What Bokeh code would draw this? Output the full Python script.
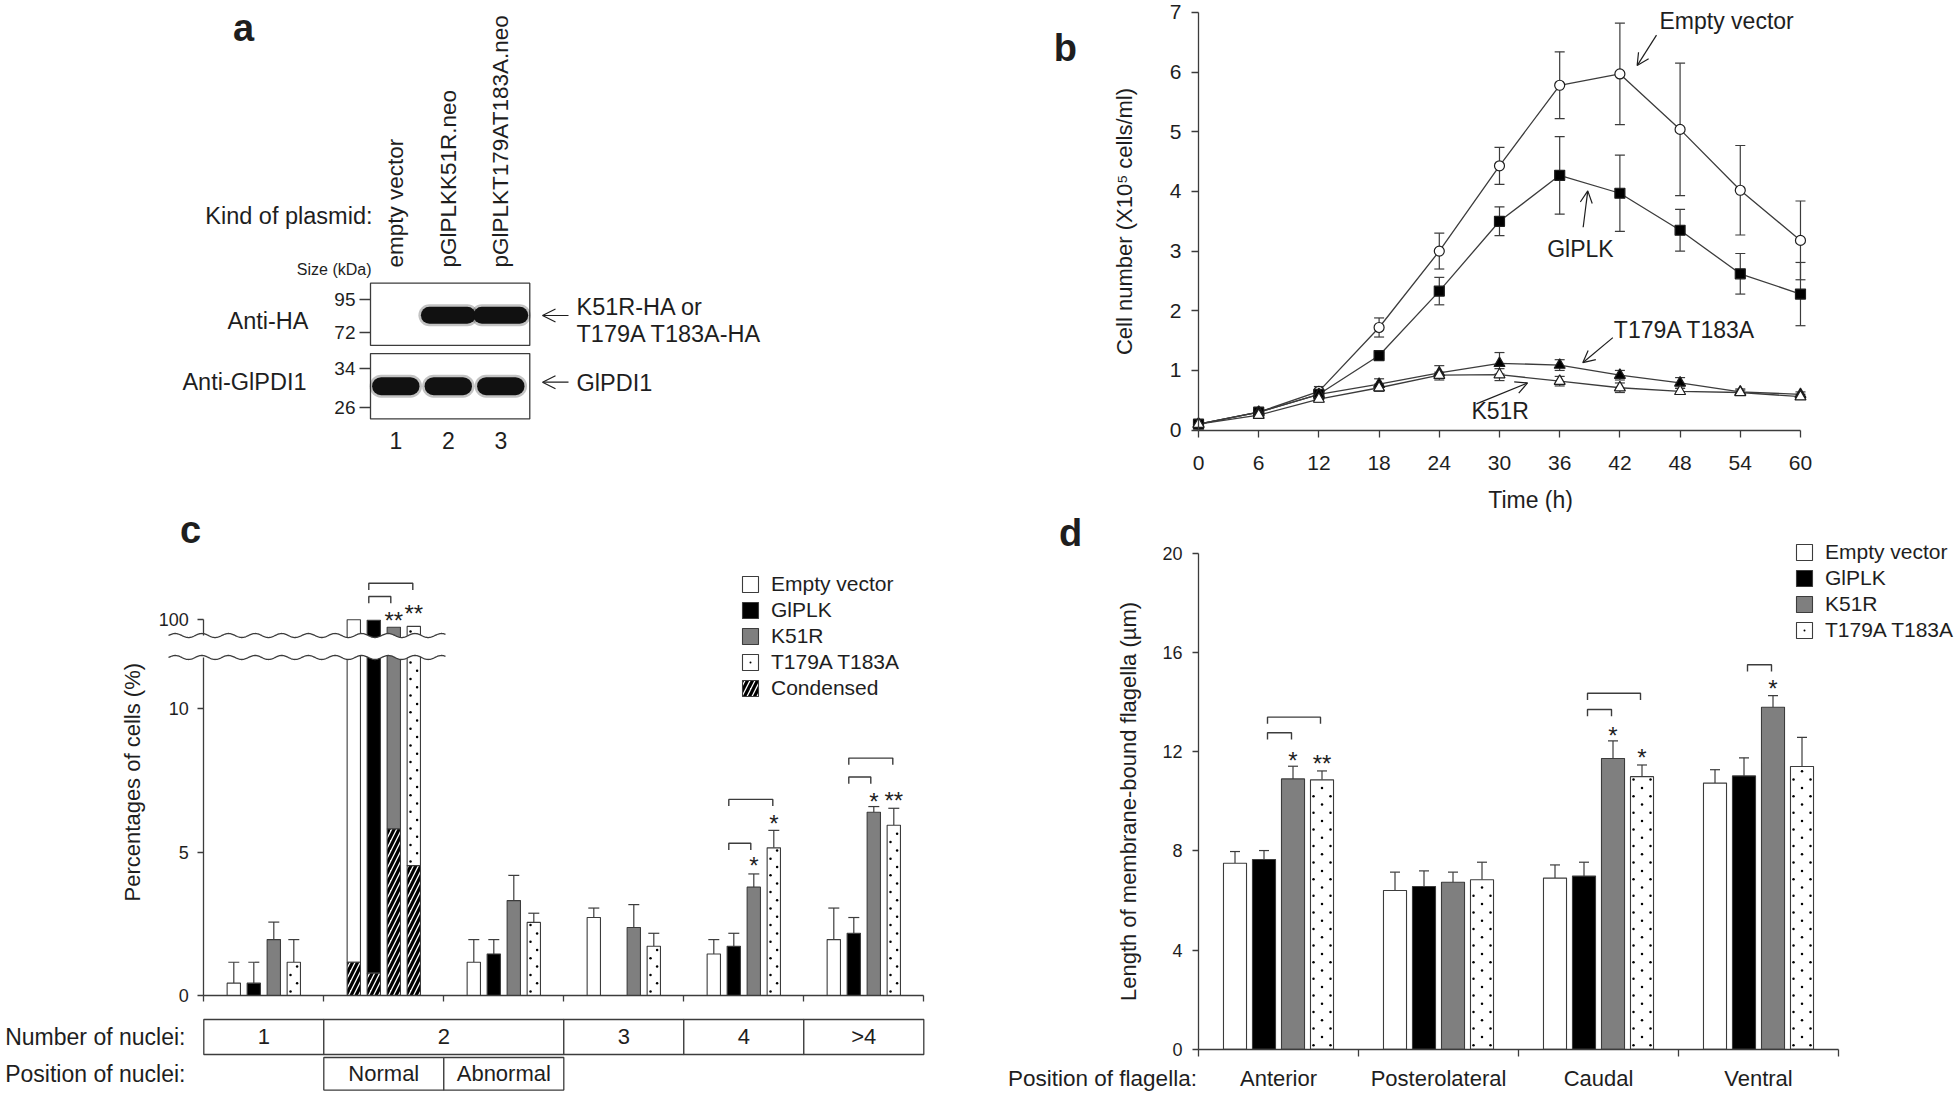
import numpy as np
from bokeh.plotting import figure
from bokeh.layouts import row, column
from bokeh.models import (Range1d, LinearAxis, FixedTicker, Whisker, TeeHead, Arrow,
                          OpenHead, Legend, LegendItem, ColumnDataSource)
from bokeh.core.properties import value
from bokeh.embed import file_html
from bokeh.resources import INLINE

FONT = "Liberation Sans"
INK = "#1e1e1e"
LINE = "#3c3c3c"
GREY = "#7f7f7f"

# ============================ data ============================
# (a) western blot
lanes = [1, 2, 3]
lane_numbers = ["1", "2", "3"]
plasmids = ["empty vector", "pGlPLKK51R.neo", "pGlPLKT179AT183A.neo"]
ha_detected = [False, True, True]
pdi_detected = [True, True, True]
ha_marker_kda = [95, 72]
pdi_marker_kda = [34, 26]
ha_band_kda = 84.0
pdi_band_kda = 30.3

# (b) growth curves, cell number (x10^5 cells/ml)
time_h = [0, 6, 12, 18, 24, 30, 36, 42, 48, 54, 60]
b_empty = [0.10, 0.30, 0.65, 1.72, 3.00, 4.43, 5.78, 5.97, 5.04, 4.02, 3.18]
b_empty_err = [0.02, 0.05, 0.08, 0.16, 0.30, 0.31, 0.56, 0.85, 1.11, 0.75, 0.66]
b_giplk = [0.10, 0.30, 0.60, 1.25, 2.33, 3.50, 4.27, 3.97, 3.35, 2.62, 2.28]
b_giplk_err = [0.02, 0.04, 0.07, 0.05, 0.23, 0.24, 0.65, 0.64, 0.35, 0.34, 0.53]
b_t179 = [0.10, 0.30, 0.60, 0.77, 0.96, 1.12, 1.09, 0.92, 0.79, 0.64, 0.60]
b_t179_err = [0.02, 0.04, 0.06, 0.09, 0.12, 0.18, 0.09, 0.08, 0.09, 0.05, 0.04]
b_k51r = [0.10, 0.25, 0.52, 0.71, 0.92, 0.93, 0.82, 0.71, 0.65, 0.63, 0.56]
b_k51r_err = [0.02, 0.04, 0.05, 0.06, 0.05, 0.10, 0.08, 0.08, 0.05, 0.04, 0.04]

series_names = ["Empty vector", "GlPLK", "K51R", "T179A T183A"]

# (c) percentages of cells
c_groups = ["1", "2N", "2A", "3", "4", ">4"]
c_number_row = ["1", "2", "2", "3", "4", ">4"]
c_position_row = ["", "Normal", "Abnormal", "", "", ""]
c_empty = [0.43, 100.0, 1.16, 2.72, 1.45, 1.95]
c_empty_err = [0.73, 0.0, 0.79, 0.33, 0.50, 1.10]
c_giplk = [0.43, 99.7, 1.45, 0.0, 1.72, 2.17]
c_giplk_err = [0.73, 0.0, 0.50, 0.0, 0.45, 0.55]
c_k51r = [1.95, 95.3, 3.31, 2.37, 3.78, 6.39]
c_k51r_err = [0.61, 0.0, 0.88, 0.80, 0.46, 0.20]
c_t179 = [1.16, 95.8, 2.55, 1.72, 5.15, 5.94]
c_t179_err = [0.79, 0.0, 0.32, 0.45, 0.61, 0.59]
c_condensed = [1.16, 0.78, 5.81, 4.53]          # condensed part of "2 / Normal"
# brackets: (group, from series, to series, bracket top, range)
c_brackets = [(1, 1, 2, 114.8, "top"), (1, 1, 3, 123.3, "top"),
              (4, 1, 2, 5.31, "default"), (4, 1, 3, 6.84, "default"),
              (5, 1, 2, 7.62, "default"), (5, 1, 3, 8.28, "default")]
c_stars = [(1, 2, "**", 102.7, "top"), (1, 3, "**", 107.4, "top"),
           (4, 2, "*", 4.71, "default"), (4, 3, "*", 6.16, "default"),
           (5, 2, "*", 6.94, "default"), (5, 3, "**", 6.98, "default")]

# (d) length of membrane-bound flagella (um)
d_positions = ["Anterior", "Posterolateral", "Caudal", "Ventral"]
d_empty = [7.50, 6.40, 6.90, 10.73]
d_empty_err = [0.47, 0.74, 0.53, 0.54]
d_giplk = [7.65, 6.56, 6.98, 11.02]
d_giplk_err = [0.36, 0.63, 0.56, 0.73]
d_k51r = [10.90, 6.73, 11.72, 13.79]
d_k51r_err = [0.51, 0.41, 0.71, 0.47]
d_t179 = [10.86, 6.83, 10.99, 11.40]
d_t179_err = [0.36, 0.71, 0.47, 1.17]
d_brackets = [(0, 1, 2, 12.76), (0, 1, 3, 13.39), (2, 1, 2, 13.70), (2, 1, 3, 14.35),
              (3, 1, 2, 15.50)]
d_stars = [(0, 2, "*", 11.84), (0, 3, "**", 11.72), (2, 2, "*", 12.85),
           (2, 3, "*", 11.98), (3, 2, "*", 14.73)]


# ============================ helpers ============================
def blank_fig(w, h, xr, yr):
    p = figure(width=w, height=h, x_range=xr, y_range=yr, toolbar_location=None,
               output_backend="svg", min_border=0, x_axis_location=None,
               y_axis_location=None)
    p.grid.visible = False
    p.grid.grid_line_color = None
    p.outline_line_color = None
    p.background_fill_color = "white"
    p.border_fill_color = "white"
    return p


def pix_range(origin_px, ppu, origin_val, length):
    start = origin_val - origin_px / ppu
    return Range1d(start=start, end=start + length / ppu)


def style_axis(ax, size, tick_out, standoff):
    ax.axis_line_color = LINE
    ax.axis_line_width = 1.3
    ax.major_tick_line_color = LINE
    ax.major_tick_line_width = 1.3
    ax.major_tick_out = tick_out
    ax.major_tick_in = 0
    ax.minor_tick_line_color = None
    ax.major_label_text_font = FONT
    ax.major_label_text_font_size = size
    ax.major_label_text_color = INK
    ax.major_label_standoff = standoff
    ax.axis_label_text_font = FONT
    ax.axis_label_text_font_style = "normal"
    ax.axis_label_text_color = INK


def txt(p, xs, ys, texts, size, align="center", baseline="middle", angle=0.0,
        style="normal", **kw):
    return p.text(x=list(xs), y=list(ys), text=list(texts), text_font=value(FONT),
                  text_font_size=value(size), text_font_style=value(style),
                  text_align=align, text_baseline=baseline, text_color=INK,
                  angle=angle, **kw)


def dot_points(xcs, bottoms, tops, ppx, ppy, row_offsets, dy_px=8.3, start_px=4.0):
    """Sparse stipple positions inside bars (offsets in px from bar centre)."""
    xs, ys = [], []
    for xc, b, t in zip(xcs, bottoms, tops):
        h = (t - b) * ppy
        k = 0
        yy = start_px
        while yy < h - 2.5:
            for off in row_offsets[k % len(row_offsets)]:
                xs.append(xc + off / ppx)
                ys.append(b + yy / ppy)
            yy += dy_px
            k += 1
    return xs, ys


STYLES = [dict(fill_color="white"),
          dict(fill_color="black"),
          dict(fill_color=GREY),
          dict(fill_color="white")]
COND = dict(fill_color="white", hatch_pattern=value("/"), hatch_color="black",
            hatch_scale=10, hatch_weight=3.2)
DOT = dict(marker="dot", size=10, line_color="black", fill_color="black")

W_TOTAL, H_TOTAL = 1960, 1092
W_L = 988                 # left column (panels a, c)
W_R = W_TOTAL - W_L       # right column (panels b, d)
H_A = 480
H_C = H_TOTAL - H_A
H_B = 512
H_D = H_TOTAL - H_B

# ============================ panel a ============================


def ay_a(Y):
    return H_A - Y


fa = blank_fig(W_L, H_A, Range1d(0, W_L), Range1d(0, H_A))
fa.extra_x_ranges = {"lane": pix_range(395.3, 52.5, 1, W_L)}
fa.extra_y_ranges = {"ha": pix_range(ay_a(331.7), 32.4 / 23.0, 72, H_A),
                     "pdi": pix_range(ay_a(406.7), 39.0 / 8.0, 26, H_A)}

for rng, lo, hi in (("ha", 62.6, 106.8), ("pdi", 23.6, 37.0)):
    fa.quad(left=[0.518], right=[3.552], bottom=[lo], top=[hi], x_range_name="lane",
            y_range_name=rng, fill_color="white", line_color=LINE, line_width=1.3)

ha_l = np.array([l for l, d in zip(lanes, ha_detected) if d], dtype=float)
pdi_l = np.array([l for l, d in zip(lanes, pdi_detected) if d], dtype=float)
for lw, alpha in ((22, 0.25), (17, 1.0)):
    fa.segment(x0=ha_l - 0.36, x1=ha_l + 0.36, y0=[ha_band_kda] * len(ha_l),
               y1=[ha_band_kda] * len(ha_l), line_width=lw, line_cap="round",
               line_color="#111111", line_alpha=alpha, x_range_name="lane", y_range_name="ha")
for lw, alpha in ((23, 0.25), (18, 1.0)):
    fa.segment(x0=pdi_l - 0.28, x1=pdi_l + 0.28, y0=[pdi_band_kda] * len(pdi_l),
               y1=[pdi_band_kda] * len(pdi_l), line_width=lw, line_cap="round",
               line_color="#111111", line_alpha=alpha, x_range_name="lane",
               y_range_name="pdi")

for rng, ticks in (("ha", ha_marker_kda), ("pdi", pdi_marker_kda)):
    kax = LinearAxis(x_range_name="lane", y_range_name=rng, fixed_location=0.518,
                     ticker=FixedTicker(ticks=ticks))
    style_axis(kax, "19px", 11, 4)
    kax.axis_line_color = None
    fa.add_layout(kax, "left")

txt(fa, lanes, [ay_a(267)] * 3, plasmids, "22.5px", align="left", angle=np.pi / 2,
    x_range_name="lane")
txt(fa, lanes, [ay_a(440)] * 3, lane_numbers, "23px", x_range_name="lane")
txt(fa, [243], [ay_a(27)], ["a"], "38px", style="bold")
txt(fa, [372], [ay_a(215)], ["Kind of plasmid:"], "23.5px", align="right")
txt(fa, [371], [ay_a(269)], ["Size (kDa)"], "16px", align="right")
txt(fa, [308, 306], [ay_a(320), ay_a(381)], ["Anti-HA", "Anti-GlPDI1"],
    "23.5px", align="right")
txt(fa, [576] * 3, [ay_a(306), ay_a(333), ay_a(382)],
    ["K51R-HA or", "T179A T183A-HA", "GlPDI1"], "23.5px", align="left")
for yy in (315, 381.7):
    fa.add_layout(Arrow(end=OpenHead(size=13, line_color=INK, line_width=1.2),
                        x_start=568, x_end=542, y_start=ay_a(yy),
                        y_end=ay_a(yy), line_color=INK, line_width=1.2))

# ============================ panel b ============================
B_PY = 59.66
fb = blank_fig(W_R, H_B, pix_range(1198 - W_L, 10.033, 0, W_R),
               pix_range(H_B - 429.6, B_PY, 0, H_B))

b_series = [(b_empty, b_empty_err, "circle", "white", 10),
            (b_giplk, b_giplk_err, "square", "black", 10),
            (b_t179, b_t179_err, "triangle", "black", 11),
            (b_k51r, b_k51r_err, "triangle", "white", 11)]
for vals, errs, _, _, _ in b_series:
    fb.line(time_h, vals, line_color=LINE, line_width=1.3)
for vals, errs, _, _, _ in b_series:
    v = np.array(vals)
    e = np.array(errs)
    src = ColumnDataSource(dict(base=time_h, lower=v - e, upper=v + e))
    w = Whisker(source=src, base="base", lower="lower", upper="upper", dimension="height",
                line_color=LINE, line_width=1.2,
                upper_head=TeeHead(size=10, line_color=LINE, line_width=1.2),
                lower_head=TeeHead(size=10, line_color=LINE, line_width=1.2))
    w.level = "underlay"
    fb.add_layout(w)
for vals, errs, marker, fill, size in b_series:
    fb.scatter(time_h, vals, marker=marker, size=size, fill_color=fill,
               line_color=INK, line_width=1.2)

bx = LinearAxis(fixed_location=0, bounds=(0, 60), ticker=FixedTicker(ticks=time_h))
style_axis(bx, "21px", 7, 19)
fb.add_layout(bx, "below")
by = LinearAxis(fixed_location=0, bounds=(0, 7), ticker=FixedTicker(ticks=list(range(8))),
                axis_label="Cell number (X10\u2075 cells/ml)")
style_axis(by, "21px", 7, 10)
by.axis_label_text_font_size = "22px"
by.axis_label_standoff = 30
fb.add_layout(by, "left")

txt(fb, [33.1], [-1.18], ["Time (h)"], "23px")
txt(fb, [-13.26], [6.41], ["b"], "38px", style="bold")
txt(fb, [45.95, 41.4, 27.2], [6.85, 1.67, 0.32], ["Empty vector", "T179A T183A", "K51R"],
    "23px", align="left")
txt(fb, [38.07], [3.04], ["GlPLK"], "23px")
for (x0, y0, x1, y1) in ((45.65, 6.62, 43.72, 6.11), (38.34, 3.40, 38.80, 4.01),
                         (41.3, 1.55, 38.3, 1.13), (27.7, 0.44, 32.8, 0.79)):
    fb.add_layout(Arrow(end=OpenHead(size=12, line_color=INK, line_width=1.2),
                        x_start=x0, y_start=y0, x_end=x1, y_end=y1,
                        line_color=INK, line_width=1.2))

# ============================ panel c ============================
C_PX = 120.0
C_PY = 28.67
TOP_PY = 1.57
fc = blank_fig(W_L, H_C, pix_range(203.3, C_PX, 0, W_L), pix_range(H_TOTAL - 995.0, C_PY, 0, H_C))
fc.extra_y_ranges = {"top": pix_range(H_TOTAL - 619.3, TOP_PY, 100, H_C)}
BREAK_LO, BREAK_HI = 11.79, 12.556
TOP_BASE = 90.0
C_DOT_ROWS = [[-3.3], [3.3]]

n_c = len(c_groups)
gx_c = np.arange(n_c) + 0.5
BW_C = 0.111
OFF_C = np.array([-1.5, -0.5, 0.5, 1.5]) * (20.0 / C_PX)
normal = c_groups.index("2N")
c_vals = [c_empty, c_giplk, c_k51r, c_t179]
c_errs = [c_empty_err, c_giplk_err, c_k51r_err, c_t179_err]
c_legend_r = []
cond_r = None
for s in range(4):
    vals = np.array(c_vals[s])
    errs = np.array(c_errs[s])
    xs = gx_c + OFF_C[s]
    reg = [i for i in range(n_c) if i != normal and vals[i] > 0]
    r = fc.vbar(x=xs[reg], top=vals[reg], bottom=0, width=BW_C, line_color=LINE,
                line_width=1.1, **STYLES[s])
    rends = [r]
    lo_top = min(vals[normal], BREAK_LO + 0.35)
    fc.vbar(x=[xs[normal]], bottom=[c_condensed[s]], top=[lo_top], width=BW_C,
            line_color=LINE, line_width=1.1, **STYLES[s])
    cond_r = fc.vbar(x=[xs[normal]], bottom=[0], top=[c_condensed[s]], width=BW_C,
                     line_color=LINE, line_width=1.1, **COND)
    fc.vbar(x=[xs[normal]], bottom=[TOP_BASE - 5], top=[vals[normal]], width=BW_C,
            line_color=LINE, line_width=1.1, y_range_name="top", **STYLES[s])
    if s == 3:   # stippled series
        dx_, dy_ = dot_points(list(xs[reg]) + [xs[normal]], [0] * len(reg) + [c_condensed[s]],
                              list(vals[reg]) + [lo_top], C_PX, C_PY, C_DOT_ROWS)
        rends.append(fc.scatter(dx_, dy_, **DOT))
        tx_, ty_ = dot_points([xs[normal]], [TOP_BASE], [vals[normal]], C_PX, TOP_PY,
                              C_DOT_ROWS)
        fc.scatter(tx_, ty_, y_range_name="top", **DOT)
    c_legend_r.append(rends)
    we = [i for i in range(n_c) if errs[i] > 0]
    src = ColumnDataSource(dict(base=xs[we], lower=vals[we], upper=vals[we] + errs[we]))
    fc.add_layout(Whisker(source=src, base="base", lower="lower", upper="upper",
                          dimension="height", line_color=LINE, line_width=1.2,
                          upper_head=TeeHead(size=11, line_color=LINE, line_width=1.2),
                          lower_head=None))

# axis break
wx = np.linspace(-0.294, 2.014, 400)
wav = 0.07 * np.sin(2 * np.pi * (wx + 0.294) / 0.222)
fc.varea(x=wx, y1=BREAK_LO + wav, y2=BREAK_HI + wav, fill_color="white")
fc.line(wx, BREAK_LO + wav, line_color=LINE, line_width=1.3)
fc.line(wx, BREAK_HI + wav, line_color=LINE, line_width=1.3)

# brackets and stars
for g, a, b, top, rng in c_brackets:
    leg = 6.7 / (TOP_PY if rng == "top" else C_PY)
    xa_ = gx_c[g] + OFF_C[a] - 5.0 / C_PX
    xb_ = gx_c[g] + OFF_C[b] - (3.0 if b == 2 else 1.0) / C_PX
    fc.line([xa_, xa_, xb_, xb_], [top - leg, top, top, top - leg], line_color=LINE,
            line_width=1.4, y_range_name=rng)
for g, sidx, s, yc, rng in c_stars:
    shift = 5.0 / (TOP_PY if rng == "top" else C_PY)
    txt(fc, [gx_c[g] + OFF_C[sidx]], [yc - shift], [s], "24px", y_range_name=rng)

cx = LinearAxis(fixed_location=0, bounds=(0, n_c), ticker=FixedTicker(ticks=list(range(n_c + 1))))
style_axis(cx, "18px", 6, 4)
cx.major_label_text_alpha = 0
fc.add_layout(cx, "below")
cy = LinearAxis(fixed_location=0, bounds=(0, BREAK_LO), ticker=FixedTicker(ticks=[0, 5, 10]))
style_axis(cy, "18px", 6, 9)
fc.add_layout(cy, "left")
cyt = LinearAxis(y_range_name="top", fixed_location=0, bounds=(TOP_BASE, 100),
                 ticker=FixedTicker(ticks=[100]))
style_axis(cyt, "18px", 6, 9)
fc.add_layout(cyt, "left")

txt(fc, [-0.597], [7.44], ["Percentages of cells (%)"], "22px", angle=np.pi / 2)
txt(fc, [-0.111], [16.25], ["c"], "38px", style="bold")


def runs(labels):
    out, start = [], 0
    for i in range(1, len(labels) + 1):
        if i == len(labels) or labels[i] != labels[start]:
            out.append((start, i, labels[start]))
            start = i
    return out


for (lo, hi, mid), labels, title in (((-2.058, -0.837, -1.447), c_number_row, "Number of nuclei:"),
                                     ((-3.30, -2.163, -2.738), c_position_row, "Position of nuclei:")):
    cells = [r_ for r_ in runs(labels) if r_[2] != ""]
    fc.quad(left=[c[0] for c in cells], right=[c[1] for c in cells], bottom=lo, top=hi,
            fill_color="white", line_color=LINE, line_width=1.3)
    txt(fc, [(c[0] + c[1]) / 2 for c in cells], [mid] * len(cells), [c[2] for c in cells], "22px")
    txt(fc, [-0.153], [mid], [title], "23px", align="right")

leg_c = Legend(items=[LegendItem(label=n, renderers=r) for n, r in zip(series_names, c_legend_r)]
               + [LegendItem(label="Condensed", renderers=[cond_r])],
               location=(740, H_TOTAL - 700), glyph_width=20, glyph_height=20, label_height=20,
               label_text_font=FONT, label_text_font_size="21px", label_text_color=INK,
               spacing=2, padding=0, margin=0, label_standoff=11, border_line_color=None,
               background_fill_alpha=0)
fc.add_layout(leg_c)

# ============================ panel d ============================
D_PX = 160.0
D_PY = 24.8
fd = blank_fig(W_R, H_D, pix_range(1198 - W_L, D_PX, 0, W_R),
               pix_range(H_TOTAL - 1048.7, D_PY, 0, H_D))
D_DOT_ROWS = [[-8.5, 8.5], [0.0]]
n_d = len(d_positions)
gx_d = np.arange(n_d) + 0.5
BW_D = 0.144
OFF_D = np.array([-1.5, -0.5, 0.5, 1.5]) * (29.0 / D_PX)
d_vals = [d_empty, d_giplk, d_k51r, d_t179]
d_errs = [d_empty_err, d_giplk_err, d_k51r_err, d_t179_err]
d_legend_r = []
for s in range(4):
    vals = np.array(d_vals[s])
    errs = np.array(d_errs[s])
    xs = gx_d + OFF_D[s]
    r = fd.vbar(x=xs, top=vals, bottom=0, width=BW_D, line_color=LINE, line_width=1.1,
                **STYLES[s])
    rends = [r]
    if s == 3:
        dx_, dy_ = dot_points(xs, [0] * n_d, vals, D_PX, D_PY, D_DOT_ROWS)
        rends.append(fd.scatter(dx_, dy_, **DOT))
    d_legend_r.append(rends)
    src = ColumnDataSource(dict(base=xs, lower=vals, upper=vals + errs))
    fd.add_layout(Whisker(source=src, base="base", lower="lower", upper="upper",
                          dimension="height", line_color=LINE, line_width=1.2,
                          upper_head=TeeHead(size=10, line_color=LINE, line_width=1.2),
                          lower_head=None))
for g, a, b, top in d_brackets:
    leg = 6.7 / D_PY
    xa_ = gx_d[g] + OFF_D[a] + 3.5 / D_PX
    xb_ = gx_d[g] + OFF_D[b] - 1.5 / D_PX
    fd.line([xa_, xa_, xb_, xb_], [top - leg, top, top, top - leg], line_color=LINE,
            line_width=1.4)
for g, sidx, s, yc in d_stars:
    txt(fd, [gx_d[g] + OFF_D[sidx]], [yc - 5.0 / D_PY], [s], "24px")

dx = LinearAxis(fixed_location=0, bounds=(0, n_d), ticker=FixedTicker(ticks=list(range(n_d + 1))))
style_axis(dx, "18px", 7, 4)
dx.major_label_text_alpha = 0
fd.add_layout(dx, "below")
dy = LinearAxis(fixed_location=0, bounds=(0, 20), ticker=FixedTicker(ticks=[0, 4, 8, 12, 16, 20]),
                axis_label="Length of membrane-bound flagella (\u00b5m)")
style_axis(dy, "18px", 6, 10)
dy.axis_label_text_font_size = "22px"
dy.axis_label_standoff = 18
fd.add_layout(dy, "left")

txt(fd, gx_d, [-1.18] * n_d, d_positions, "22px")
txt(fd, [-0.01], [-1.18], ["Position of flagella:"], "22.5px", align="right")
txt(fd, [-0.8], [20.83], ["d"], "38px", style="bold")

leg_d = Legend(items=[LegendItem(label=n, renderers=r) for n, r in zip(series_names, d_legend_r)],
               location=(806, H_TOTAL - 642), glyph_width=20, glyph_height=20, label_height=20,
               label_text_font=FONT, label_text_font_size="21px", label_text_color=INK,
               spacing=2, padding=0, margin=0, label_standoff=11, border_line_color=None,
               background_fill_alpha=0)
fd.add_layout(leg_d)

layout = row(column(fa, fc), column(fb, fd))
open("out.html", "w").write(file_html(layout, INLINE))
